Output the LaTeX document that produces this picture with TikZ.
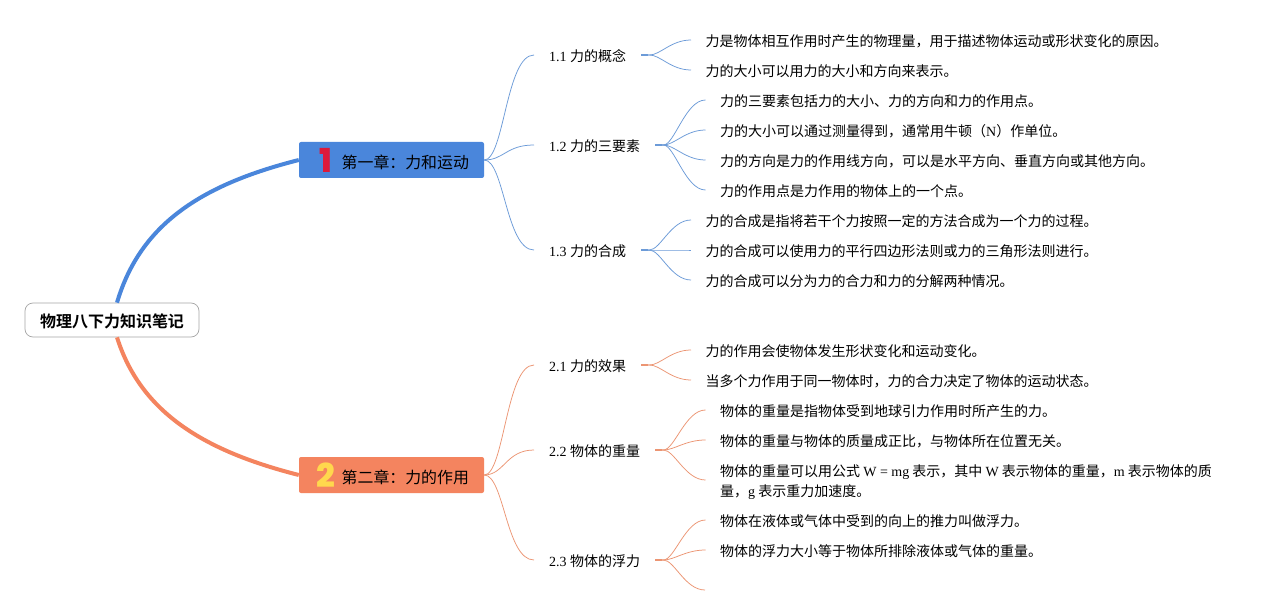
\documentclass[tikz,border=0pt]{standalone}
\usepackage{fontspec}
\setmainfont[BoldFont={Noto Sans CJK SC Bold}]{Noto Sans CJK SC}
\newfontfamily\lat{Liberation Serif}
\newfontfamily\nump{Poppins}[BoldFont={Poppins ExtraBold}]
\newcommand{\la}[1]{{\lat #1}}
\definecolor{bl}{HTML}{4A86DB}
\definecolor{org}{HTML}{F4845F}
\definecolor{bll}{HTML}{6C9BD8}
\definecolor{orl}{HTML}{EC9573}
\definecolor{numa}{HTML}{DC1A3C}
\definecolor{numb}{HTML}{FFD84D}
\tikzset{
  rootbox/.style={draw=black!35,line width=0.7pt,rounded corners=8pt,fill=white,minimum width=174pt,minimum height=34pt,inner sep=0pt},
  roottext/.style={inner sep=0pt,font=\fontsize{16}{20}\selectfont\bfseries},
  chapbox/.style={rounded corners=2pt,minimum width=185pt,minimum height=36pt,inner sep=0pt},
  chaptext/.style={inner sep=0pt,anchor=west,font=\fontsize{15.9}{20}\selectfont},
  topicbox/.style={anchor=west,inner xsep=15pt,inner ysep=0pt,text height=13.4pt,text depth=0pt,font=\fontsize{14}{20}\selectfont},
  leafbox/.style={anchor=west,inner xsep=14.5pt,inner ysep=0pt,text height=13.4pt,text depth=0pt,align=left,font=\fontsize{14}{20}\selectfont},
  leafmulti/.style={anchor=west,inner xsep=14.5pt,inner ysep=0pt,align=left,font=\fontsize{14}{20}\selectfont},
  main/.style={line width=4pt},
  thin1/.style={line width=0.75pt,draw=bll},
  thin2/.style={line width=0.75pt,draw=orl},
  stub1/.style={line width=1.6pt,draw=bll},
  stub2/.style={line width=1.6pt,draw=orl},
  fork/.style={to path={-- ++(8,0) .. controls +(11,0) and +(-20,0) .. (\tikztotarget)}},
  limb/.style={to path={.. controls +(20,-0) and +(-28,0) .. (\tikztotarget)}}
}
\begin{document}
\begin{tikzpicture}[x=1pt,y=-1pt]
\useasboundingbox (0,0) rectangle (1280,615);
\fill[white] (0,0) rectangle (1280,615);

\node[rootbox] (root) at (112,320) {};
\node[roottext] (roott) at (112,321) {物理八下力知识笔记};
\node[chapbox,fill=bl] (c1) at (391.5,160) {};
\node[chapbox,fill=org] (c2) at (391.5,475) {};
\node[chaptext] (c1t) at (341.5,162) {第一章：力和运动};
\node[chaptext] (c2t) at (341.5,477) {第二章：力的作用};
\node[inner sep=0pt,text=numa,font=\fontsize{33}{33}\selectfont\nump\bfseries] (n1) at (326,160) {1};
\node[inner sep=0pt,text=numb,font=\fontsize{33}{33}\selectfont\nump\bfseries] (n2) at (326,475) {2};

\draw[main,bl] ([xshift=5pt]root.north) .. controls (140,225) and (200,185) .. (c1.west);
\draw[main,org] ([xshift=5pt]root.south) .. controls (140,410) and (200,450) .. (c2.west);

\node[topicbox] (t11) at (534,55) {\la{1.1 }力的概念};
\node[topicbox] (t12) at (534,145) {\la{1.2 }力的三要素};
\node[topicbox] (t13) at (534,250) {\la{1.3 }力的合成};
\node[topicbox] (t21) at (534,365) {\la{2.1 }力的效果};
\node[topicbox] (t22) at (534,450) {\la{2.2 }物体的重量};
\node[topicbox] (t23) at (534,560) {\la{2.3 }物体的浮力};

\node[leafbox] (a1) at (691,40) {力是物体相互作用时产生的物理量，用于描述物体运动或形状变化的原因。};
\node[leafbox] (a2) at (691,70) {力的大小可以用力的大小和方向来表示。};
\node[leafbox] (b1) at (705.5,100) {力的三要素包括力的大小、力的方向和力的作用点。};
\node[leafbox] (b2) at (705.5,130) {力的大小可以通过测量得到，通常用牛顿（\la{N}）作单位。};
\node[leafbox] (b3) at (705.5,160) {力的方向是力的作用线方向，可以是水平方向、垂直方向或其他方向。};
\node[leafbox] (b4) at (705.5,190) {力的作用点是力作用的物体上的一个点。};
\node[leafbox] (d1) at (691,220) {力的合成是指将若干个力按照一定的方法合成为一个力的过程。};
\node[leafbox] (d2) at (691,250) {力的合成可以使用力的平行四边形法则或力的三角形法则进行。};
\node[leafbox] (d3) at (691,280) {力的合成可以分为力的合力和力的分解两种情况。};
\node[leafbox] (e1) at (691,350) {力的作用会使物体发生形状变化和运动变化。};
\node[leafbox] (e2) at (691,380) {当多个力作用于同一物体时，力的合力决定了物体的运动状态。};
\node[leafbox] (f1) at (705.5,410) {物体的重量是指物体受到地球引力作用时所产生的力。};
\node[leafbox] (f2) at (705.5,440) {物体的重量与物体的质量成正比，与物体所在位置无关。};
\node[leafmulti] (f3) at (705.5,482) {物体的重量可以用公式 \la{W = mg} 表示，其中 \la{W} 表示物体的重量，\la{m} 表示物体的质\\量，\la{g} 表示重力加速度。};
\node[leafbox] (g1) at (705.5,520) {物体在液体或气体中受到的向上的推力叫做浮力。};
\node[leafbox] (g2) at (705.5,550) {物体的浮力大小等于物体所排除液体或气体的重量。};
\coordinate (g3) at (705,590);

\foreach \t in {t11,t12,t13} \draw[thin1] (c1.east) to[limb] (\t.west);
\foreach \t in {t21,t22,t23} \draw[thin2] (c2.east) to[limb] (\t.west);

\foreach \t/\l in {t11/a1,t11/a2,t12/b1,t12/b2,t12/b3,t12/b4,t13/d1,t13/d2,t13/d3}
  \draw[thin1] (\t.east) to[fork] (\l.west);
\foreach \t/\l in {t21/e1,t21/e2,t22/f1,t22/f2,t23/g1,t23/g2}
  \draw[thin2] (\t.east) to[fork] (\l.west);
\draw[thin2] (t22.east) to[fork] ([yshift=2pt]f3.west);
\draw[thin2] (t23.east) to[fork] (g3);
\foreach \t in {t11,t12,t13} \draw[stub1] (\t.east) -- ++(7,0);
\foreach \t in {t21,t22,t23} \draw[stub2] (\t.east) -- ++(7,0);
\end{tikzpicture}
\end{document}
